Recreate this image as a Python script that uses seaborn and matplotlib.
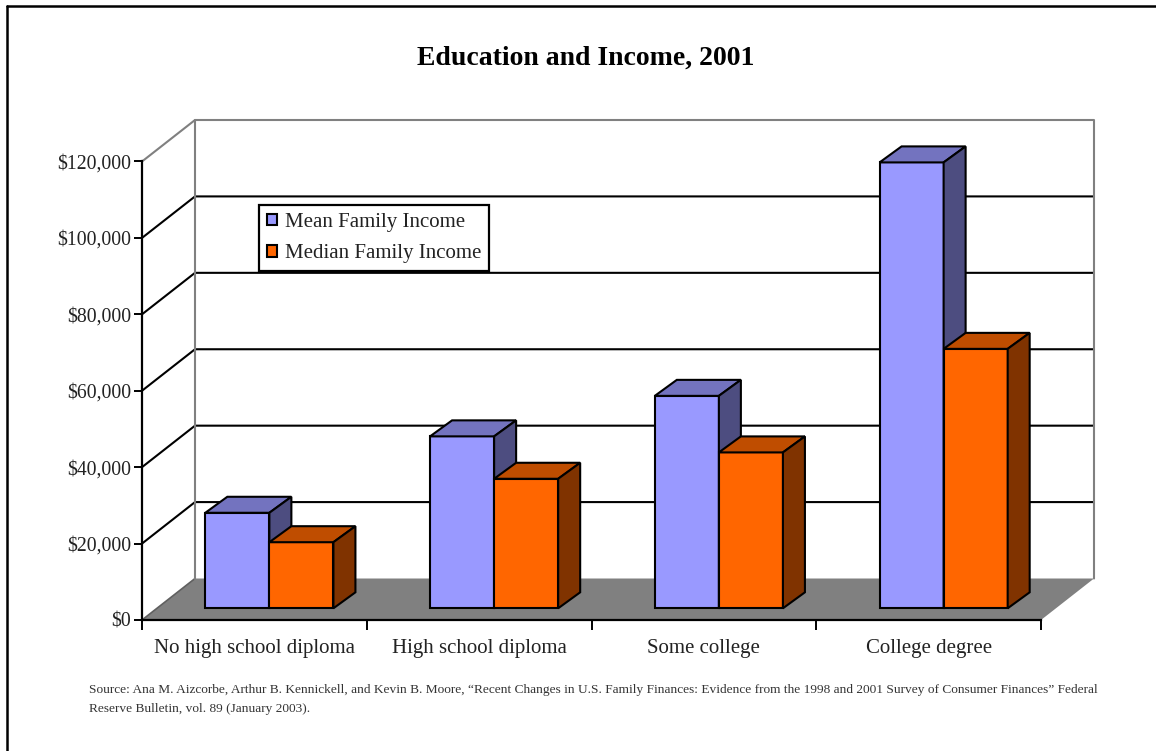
import numpy as np
import pandas as pd
import matplotlib
matplotlib.use("Agg")
import matplotlib.pyplot as plt
from matplotlib.patches import Polygon, Patch
from matplotlib.transforms import ScaledTranslation
from matplotlib.ticker import FuncFormatter
import seaborn as sns

# ---- data -------------------------------------------------------------
categories = ["No high school diploma", "High school diploma",
              "Some college", "College degree"]
mean_income = [25000, 45000, 55600, 116700]
median_income = [17300, 33900, 40800, 67900]
series_names = ["Mean Family Income", "Median Family Income"]
y_ticks = [0, 20000, 40000, 60000, 80000, 100000, 120000]

title = "Education and Income, 2001"
source_lines = [
    "Source: Ana M. Aizcorbe, Arthur B. Kennickell, and Kevin B. Moore, "
    "\u201cRecent Changes in U.S. Family Finances: Evidence from the 1998 and "
    "2001 Survey of Consumer Finances\u201d Federal",
    "Reserve Bulletin, vol. 89 (January 2003).",
]

df = pd.DataFrame({
    "Education": categories * 2,
    "Measure": [series_names[0]] * 4 + [series_names[1]] * 4,
    "Income": mean_income + median_income,
})

# ---- style ------------------------------------------------------------
sns.set_theme(style="white")
plt.rcParams["font.family"] = ["Liberation Serif", "DejaVu Serif"]

front_colors = {series_names[0]: "#9999FF", series_names[1]: "#FF6600"}


def shade(hex_color, f):
    r, g, b = matplotlib.colors.to_rgb(hex_color)
    return (r * f, g * f, b * f)


W, H = 1156, 751
fig = plt.figure(figsize=(W / 100, H / 100), dpi=100)
fig.patch.set_facecolor("white")

# plot area: front edge of the floor and the value axis
ax_l, ax_r, ax_b, ax_t = 142, 1041, 620, 161.5
ax = fig.add_axes([ax_l / W, 1 - ax_b / H, (ax_r - ax_l) / W, (ax_b - ax_t) / H])
ax.patch.set_visible(False)

sns.barplot(data=df, x="Education", y="Income", hue="Measure",
            order=categories, hue_order=series_names,
            palette=front_colors, saturation=1, width=0.57,
            edgecolor="black", linewidth=1.5, errorbar=None,
            legend=False, ax=ax)
bars = [p for p in ax.patches]

ax.set_xlim(-0.5, len(categories) - 0.5)
ax.set_ylim(0, 120000)

# data units per pixel
ux = (len(categories)) / (ax_r - ax_l)
uy = 120000 / (ax_b - ax_t)

# depth of the whole box (floor / walls) and of each bar, in pixels
wall_dx, wall_dy = 53, 41.5
bar_dx, bar_dy = 22, 16
bar_shift = ScaledTranslation(15 / 100, 11.7 / 100, fig.dpi_scale_trans)
bar_trans = ax.transData + bar_shift

WX, WY = wall_dx * ux, wall_dy * uy
BX, BY = bar_dx * ux, bar_dy * uy
x0, x1 = -0.5, len(categories) - 0.5
gray = "#808080"

# floor
ax.add_patch(Polygon([(x0, 0), (x1, 0), (x1 + WX, WY), (x0 + WX, WY)],
                     closed=True, facecolor=gray, edgecolor="none",
                     zorder=1, clip_on=False))
ax.plot([x0, x0 + WX], [0, WY], color="#606060", lw=1.2, zorder=1.1,
        clip_on=False)

# back wall grid and left wall diagonals
for v in y_ticks[1:-1]:
    ax.plot([x0, x0 + WX, x1 + WX], [v, v + WY, v + WY], color="black",
            lw=1.5, zorder=1.2, clip_on=False)
top = y_ticks[-1]
ax.plot([x0, x0 + WX, x1 + WX, x1 + WX], [top, top + WY, top + WY, WY],
        color=gray, lw=1.5, zorder=1.2, clip_on=False)
ax.plot([x0 + WX, x0 + WX], [WY, top + WY], color=gray, lw=1.5,
        zorder=1.2, clip_on=False)

# bars with top and side faces
for p in bars:
    fc = matplotlib.colors.to_hex(p.get_facecolor())
    z = 3 if fc.lower() == front_colors[series_names[0]].lower() else 4
    p.set_transform(bar_trans)
    p.set_zorder(z)
    p.set_clip_on(False)
    bx0, bw, bh = p.get_x(), p.get_width(), p.get_height()
    bx1 = bx0 + bw
    topf = Polygon([(bx0, bh), (bx1, bh), (bx1 + BX, bh + BY), (bx0 + BX, bh + BY)],
                   closed=True, facecolor=shade(fc, 0.75), edgecolor="black",
                   lw=1.5, joinstyle="miter", transform=bar_trans, zorder=z,
                   clip_on=False)
    side = Polygon([(bx1, 0), (bx1 + BX, BY), (bx1 + BX, bh + BY), (bx1, bh)],
                   closed=True, facecolor=shade(fc, 0.5), edgecolor="black",
                   lw=1.5, joinstyle="miter", transform=bar_trans, zorder=z,
                   clip_on=False)
    ax.add_patch(topf)
    ax.add_patch(side)

# axes
for s in ["top", "right"]:
    ax.spines[s].set_visible(False)
for s in ["left", "bottom"]:
    ax.spines[s].set_color("black")
    ax.spines[s].set_linewidth(1.6)
    ax.spines[s].set_zorder(5)

ax.set_yticks(y_ticks)
ax.yaxis.set_major_formatter(FuncFormatter(lambda v, _: f"${v:,.0f}"))
ax.tick_params(axis="y", which="major", left=True, length=6, width=1.4,
               color="black", pad=2, labelsize=14.2, labelcolor="#222222")

ax.set_xticks(np.arange(x0, x1 + 0.01, 1.0))
ax.set_xticklabels([])
ax.set_xticks(np.arange(len(categories)), minor=True)
ax.set_xticklabels(categories, minor=True)
ax.tick_params(axis="x", which="major", bottom=True, length=7, width=1.4,
               color="black")
ax.tick_params(axis="x", which="minor", bottom=False, length=0, pad=14,
               labelsize=15, labelcolor="#222222")
ax.set_xlabel("")
ax.set_ylabel("")
ax.grid(False)

# legend
handles = [Patch(facecolor=front_colors[n], edgecolor="black", lw=1.5, label=n)
           for n in series_names]
leg = fig.legend(handles=handles, loc="upper left",
                 bbox_to_anchor=(259 / W, 1 - 205 / H), borderaxespad=0,
                 frameon=True, fancybox=False, framealpha=1,
                 edgecolor="black", facecolor="white", fontsize=15,
                 handlelength=0.5, handleheight=0.5, handletextpad=0.35,
                 labelspacing=0.6, borderpad=0.38)
leg.get_frame().set_linewidth(1.6)
for t in leg.get_texts():
    t.set_color("#222222")

# title and source
fig.text(586 / W, 1 - 58 / H, title, ha="center", va="center",
         fontsize=20, fontweight="bold", color="black")
fig.text(89 / W, 1 - 684 / H, "\n".join(source_lines), ha="left", va="top",
         fontsize=9.6, color="#333333", linespacing=1.75)

# outer frame
fig.add_artist(plt.Line2D([7 / W, 7 / W], [0, 1 - 6 / H], color="black",
                          lw=1.8, transform=fig.transFigure))
fig.add_artist(plt.Line2D([7 / W, 1], [1 - 6 / H, 1 - 6 / H], color="black",
                          lw=1.8, transform=fig.transFigure))

fig.savefig("out.png", dpi=100, facecolor="white")
